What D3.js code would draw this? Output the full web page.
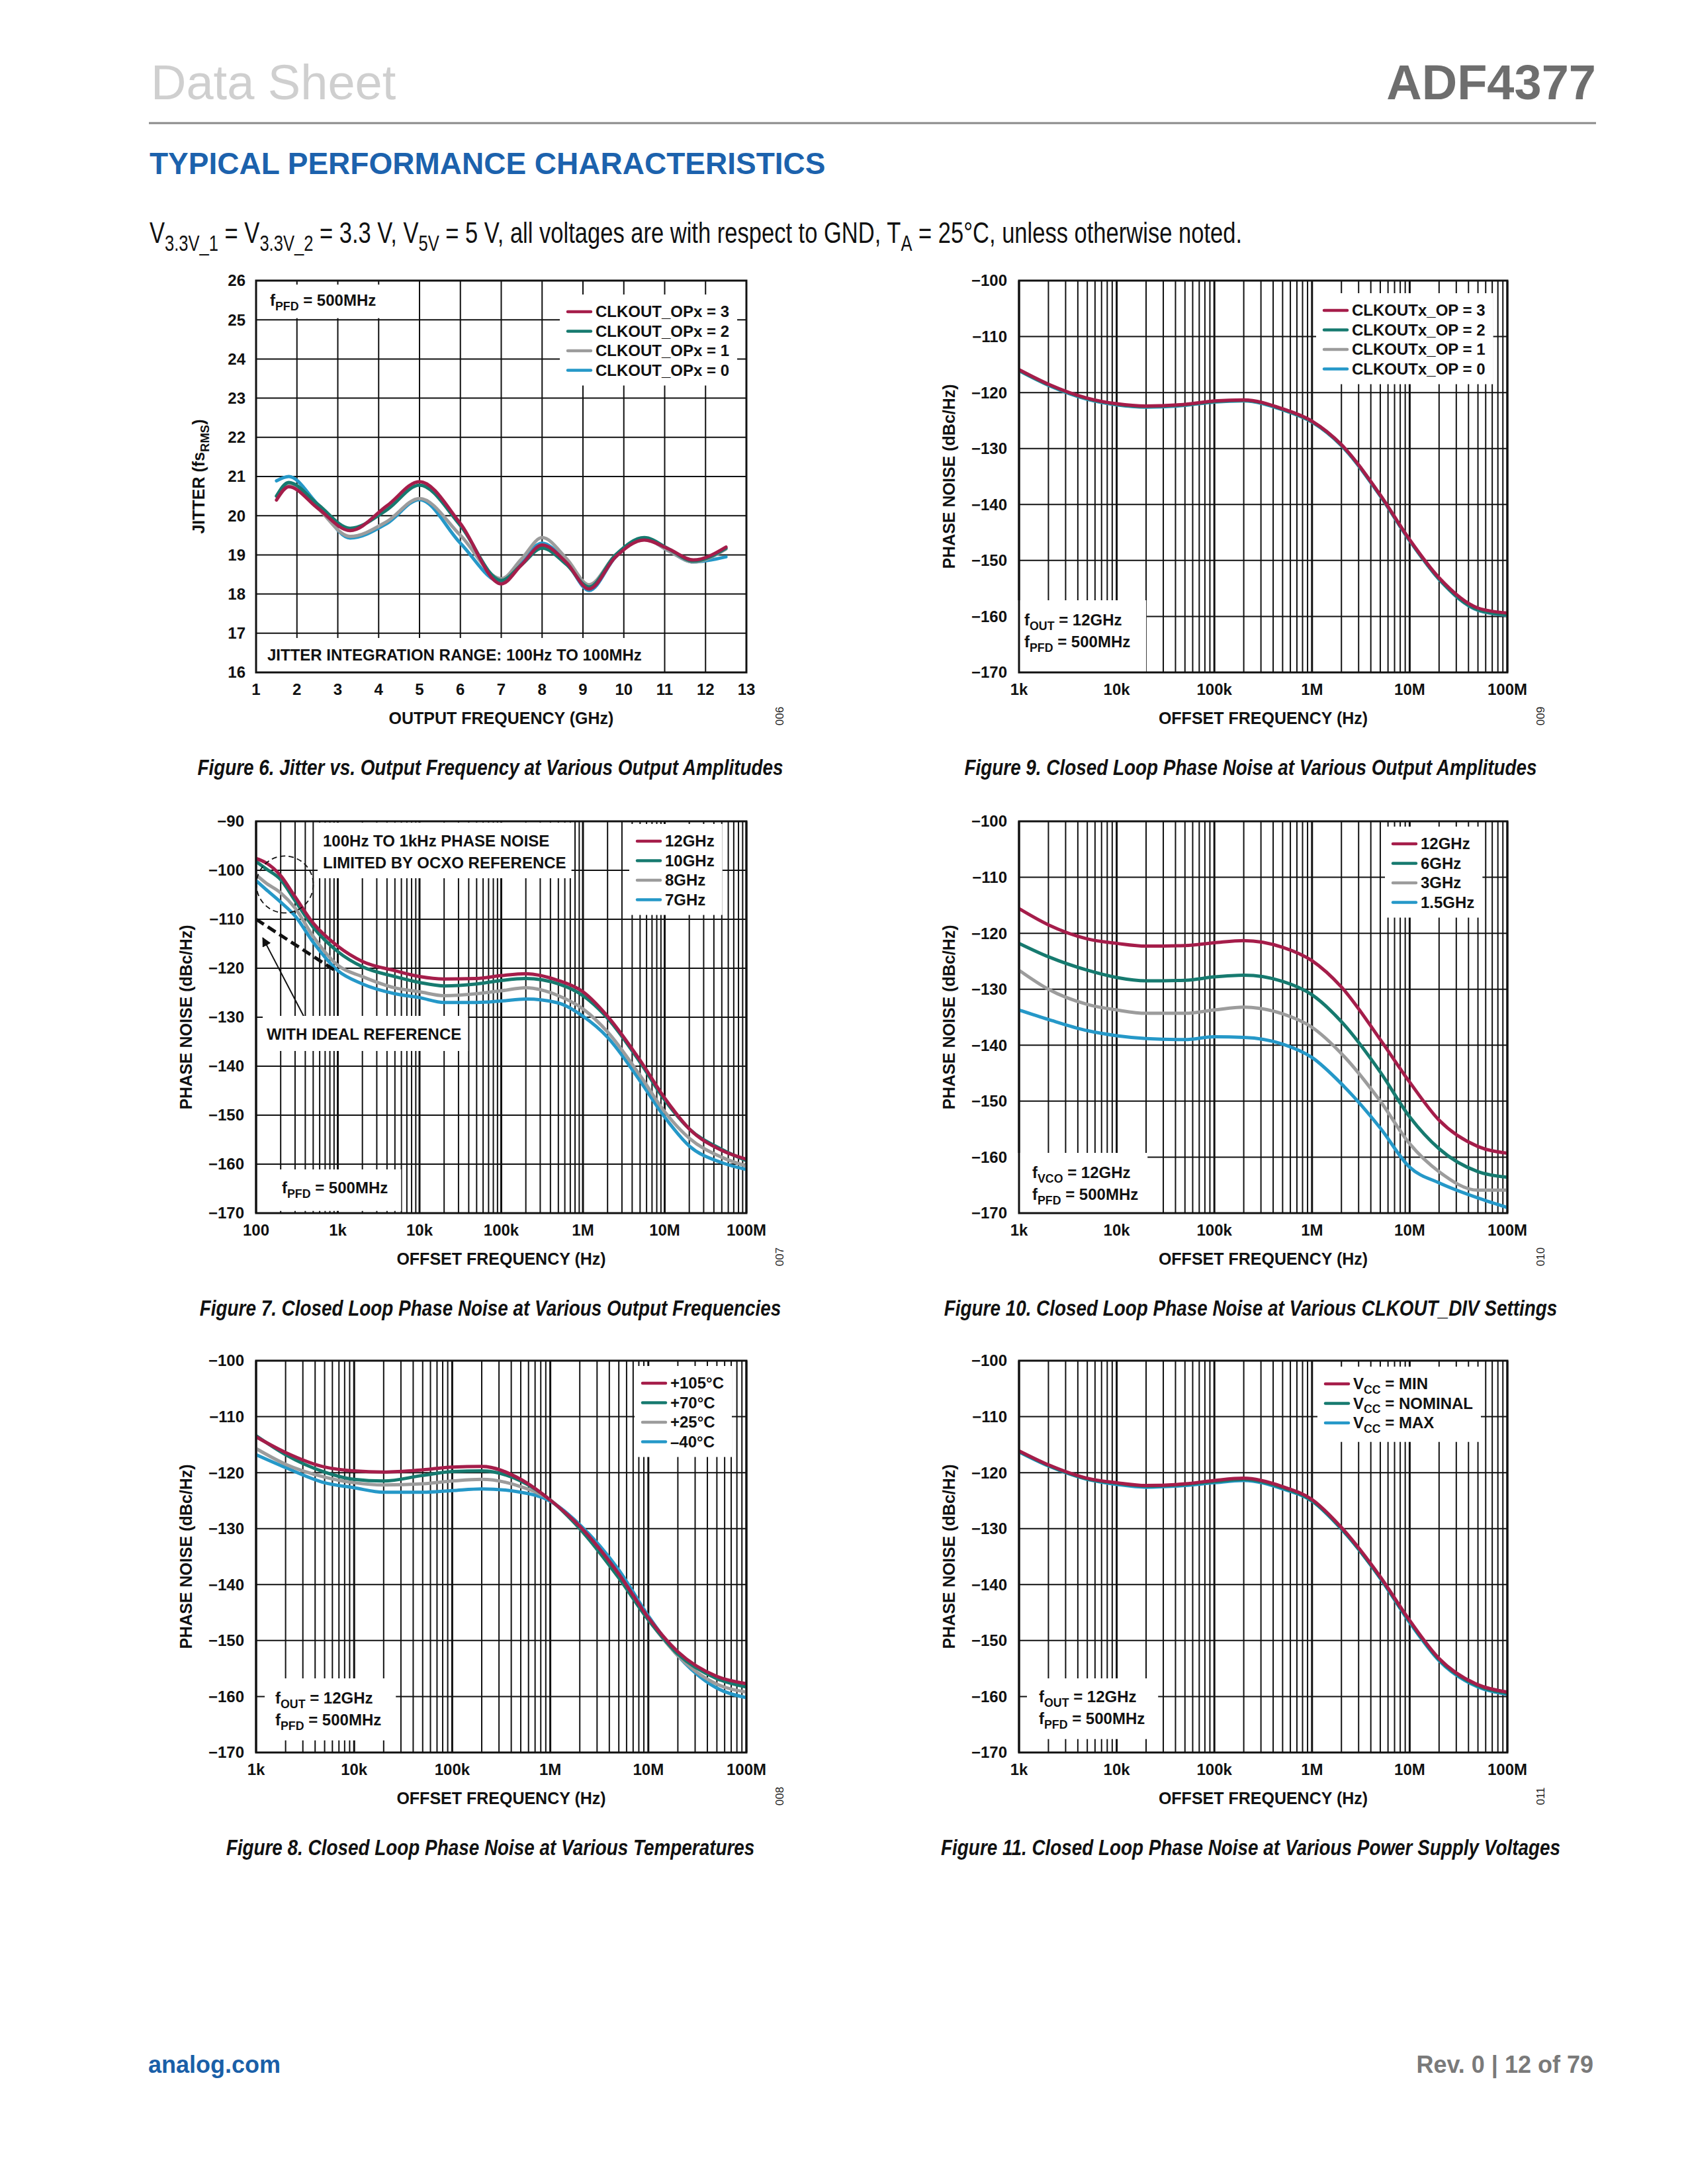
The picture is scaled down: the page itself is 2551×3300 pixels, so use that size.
<!DOCTYPE html>
<html>
<head>
<meta charset="utf-8">
<script src="https://cdn.jsdelivr.net/npm/d3@7"></script>
<style>
  body { margin: 0; background: #fff; }
  svg { display: block; }
  text { font-family: 'Liberation Sans', Arial, Helvetica, sans-serif; }
</style>
</head>
<body>
<div id="page"></div>
<script>
// Figura 6: jitter frente a frecuencia de salida
const jitterFreq = [1.5, 1.8, 2.5, 3.3, 4.2, 5.0, 6.0, 7.0, 7.5, 8.0, 8.6, 9.15, 9.8, 10.5, 11.1, 11.7, 12.5]
const jitterOp3 = [20.40, 20.74, 20.20, 19.62, 20.25, 20.87, 19.80, 18.26, 18.75, 19.25, 18.80, 18.13, 18.95, 19.38, 19.15, 18.87, 19.20]
const jitterOp2 = [20.50, 20.85, 20.30, 19.68, 20.15, 20.78, 19.75, 18.35, 18.75, 19.17, 18.75, 18.18, 19.00, 19.44, 19.15, 18.84, 19.17]
const jitterOp1 = [20.50, 20.80, 20.20, 19.47, 19.85, 20.44, 19.50, 18.39, 18.90, 19.44, 18.90, 18.24, 19.00, 19.41, 19.10, 18.82, 19.15]
const jitterOp0 = [20.89, 21.00, 20.30, 19.43, 19.80, 20.41, 19.30, 18.30, 18.85, 19.30, 18.80, 18.09, 18.95, 19.42, 19.10, 18.82, 18.95]
const jitterLabels = ['CLKOUT_OPx = 3', 'CLKOUT_OPx = 2', 'CLKOUT_OPx = 1', 'CLKOUT_OPx = 0']
const jitterTicksX = [1, 2, 3, 4, 5, 6, 7, 8, 9, 10, 11, 12, 13]
const jitterTicksY = [16, 17, 18, 19, 20, 21, 22, 23, 24, 25, 26]

// frecuencias de offset comunes (Hz)
const pnFreq = [1e3, 2e3, 5e3, 1e4, 2e4, 5e4, 1e5, 2e5, 5e5, 1e6, 2e6, 5e6, 1e7, 2e7, 5e7, 1e8]
const fig7Freq = [100, 130, 200, 300, 500, 1e3, 2e3, 5e3, 1e4, 2e4, 5e4, 1e5, 2e5, 5e5, 1e6, 2e6, 5e6, 1e7, 2e7, 5e7, 1e8]

// Figura 9: amplitudes de salida
const fig9Op3 = [-115.9, -118.5, -121.0, -122.0, -122.4, -122.1, -121.5, -121.3, -122.9, -125.1, -129.3, -138.3, -146.3, -153.1, -158.5, -159.4]
const fig9Op2 = [-116.0, -118.6, -121.1, -122.1, -122.5, -122.2, -121.6, -121.4, -123.0, -125.2, -129.4, -138.4, -146.4, -153.3, -158.8, -159.7]
const fig9Op1 = [-116.0, -118.6, -121.1, -122.1, -122.5, -122.2, -121.6, -121.4, -123.0, -125.2, -129.4, -138.4, -146.4, -153.3, -158.8, -159.7]
const fig9Op0 = [-116.1, -118.7, -121.2, -122.2, -122.6, -122.3, -121.7, -121.5, -123.1, -125.3, -129.5, -138.5, -146.5, -153.4, -158.9, -159.8]
const fig9Labels = ['CLKOUTx_OP = 3', 'CLKOUTx_OP = 2', 'CLKOUTx_OP = 1', 'CLKOUTx_OP = 0']

// Figura 7: frecuencias de salida
const fig7F12 = [-97.6, -98.4, -101.1, -105.4, -110.8, -115.5, -118.6, -120.5, -121.7, -122.2, -122.1, -121.5, -121.1, -122.5, -124.8, -129.8, -138.8, -146.5, -152.8, -157.2, -159.0]
const fig7F10 = [-98.2, -99.6, -101.9, -106.2, -111.6, -116.6, -119.7, -121.7, -122.9, -123.6, -123.2, -122.5, -122.1, -123.2, -125.6, -130.2, -139.2, -146.9, -152.8, -157.0, -159.3]
const fig7F8 = [-100.9, -102.5, -104.6, -107.7, -113.5, -119.4, -121.7, -124.0, -124.8, -125.6, -125.2, -124.6, -124.0, -125.6, -128.3, -133.0, -141.9, -149.3, -154.7, -158.6, -160.4]
const fig7F7 = [-102.1, -103.8, -106.5, -109.3, -114.7, -120.5, -123.2, -125.2, -126.0, -127.0, -127.0, -126.7, -126.3, -127.1, -129.8, -134.1, -143.0, -150.4, -156.3, -159.7, -161.1]
const fig7Labels = ['12GHz', '10GHz', '8GHz', '7GHz']

// Figura 10: ajustes de CLKOUT_DIV
const fig10F12 = [-115.6, -118.5, -121.0, -121.8, -122.3, -122.2, -121.7, -121.3, -122.5, -124.9, -129.6, -139.0, -146.6, -153.4, -158.1, -159.3]
const fig10F6 = [-121.8, -124.2, -126.6, -127.9, -128.5, -128.4, -127.8, -127.5, -128.6, -131.0, -135.8, -144.8, -152.8, -158.5, -162.6, -163.6]
const fig10F3 = [-126.6, -130.0, -132.7, -133.7, -134.3, -134.3, -133.7, -133.2, -134.4, -136.8, -141.5, -150.0, -157.6, -162.6, -165.9, -165.9]
const fig10F15 = [-133.7, -135.4, -137.4, -138.3, -138.8, -139.0, -138.5, -138.6, -139.8, -142.2, -146.9, -154.8, -161.8, -164.6, -167.3, -169.0]
const fig10Labels = ['12GHz', '6GHz', '3GHz', '1.5GHz']

// Figura 8: temperaturas
const fig8T105 = [-113.6, -116.4, -119.0, -119.7, -119.9, -119.5, -119.0, -118.9, -121.2, -124.9, -129.6, -138.1, -145.9, -152.0, -156.4, -157.7]
const fig8T70 = [-113.4, -116.8, -119.9, -121.2, -121.5, -120.5, -119.8, -119.7, -121.5, -124.9, -130.0, -138.8, -146.3, -152.4, -156.8, -158.3]
const fig8T25 = [-115.7, -118.5, -120.8, -121.8, -122.2, -122.0, -121.5, -121.2, -122.5, -124.9, -130.0, -138.8, -146.3, -152.7, -157.8, -159.2]
const fig8Tm40 = [-116.8, -119.1, -121.8, -122.7, -123.5, -123.5, -123.2, -122.9, -123.5, -125.1, -129.3, -137.4, -145.6, -152.7, -158.5, -160.2]
const fig8Labels = ['+105°C', '+70°C', '+25°C', '\u201340°C']

// Figura 11: tensiones de alimentación
const fig11Min = [-116.1, -118.6, -121.0, -121.8, -122.3, -122.0, -121.4, -121.0, -122.5, -124.8, -129.8, -138.6, -146.4, -153.2, -157.9, -159.2]
const fig11Nom = [-116.2, -118.7, -121.1, -121.9, -122.4, -122.1, -121.6, -121.2, -122.7, -125.0, -130.0, -138.8, -146.6, -153.4, -158.1, -159.4]
const fig11Max = [-116.3, -118.8, -121.2, -122.1, -122.6, -122.3, -121.8, -121.4, -122.9, -125.1, -130.1, -138.9, -146.8, -153.6, -158.3, -159.6]
const fig11Labels = ['V_{CC} = MIN', 'V_{CC} = NOMINAL', 'V_{CC} = MAX']

const pnTicksY70 = [-170, -160, -150, -140, -130, -120, -110, -100]
const pnTicksY80 = [-170, -160, -150, -140, -130, -120, -110, -100, -90]
const decadeLabels = { 100: '100', 1e3: '1k', 1e4: '10k', 1e5: '100k', 1e6: '1M', 1e7: '10M', 1e8: '100M' }

const colors = ['#a51d4a', '#167a6f', '#9c9c9c', '#2598c8']
const colorsVcc = ['#a51d4a', '#167a6f', '#2598c8']

// ---------- configuración general ----------
const page = { width: 2551, height: 3300 }
const colX = [387, 1540]
const colW = [741, 738]
const rowY = [424, 1241, 2056]
const plotH = 592
const captionX = [741, 1890]
const minus = (v) => (v < 0 ? '\u2212' + Math.abs(v) : String(v))

const svg = d3.select('#page')
    .append('svg')
    .attr('width', page.width)
    .attr('height', page.height)

// texto con subíndices marcados como _{...}
function rich(textSel, str, size) {
    const re = /_\{([^}]*)\}/g
    const shift = size * 0.28
    let last = 0, m, shifted = false
    const normal = (t) => {
        textSel.append('tspan').attr('dy', shifted ? -shift : 0).text(t)
        shifted = false
    }
    while ((m = re.exec(str))) {
        if (m.index > last) normal(str.slice(last, m.index))
        textSel.append('tspan').attr('font-size', size * 0.74).attr('dy', shifted ? 0 : shift).text(m[1])
        shifted = true
        last = re.lastIndex
    }
    if (last < str.length) normal(str.slice(last))
    return textSel
}

// bloque de texto con fondo blanco que tapa la rejilla
function boxed(g, x, y, lines, lineH, pad) {
    const grp = g.append('g')
    lines.forEach((l, i) => {
        const t = grp.append('text')
            .attr('x', x).attr('y', y + i * lineH)
            .attr('font-size', 24).attr('font-weight', 'bold').attr('fill', '#111')
        rich(t, l, 24)
    })
    const bb = grp.node().getBBox()
    grp.insert('rect', ':first-child')
        .attr('x', bb.x - pad[3]).attr('y', bb.y - pad[0])
        .attr('width', bb.width + pad[1] + pad[3]).attr('height', bb.height + pad[0] + pad[2])
        .attr('fill', '#fff')
    return grp
}

function legend(g, x, y, labels, cols) {
    const grp = g.append('g')
    labels.forEach((l, i) => {
        const yy = y + i * 29.5
        grp.append('line')
            .attr('x1', x).attr('x2', x + 35).attr('y1', yy - 8).attr('y2', yy - 8)
            .attr('stroke', cols[i]).attr('stroke-width', 4.5).attr('stroke-linecap', 'round')
        const t = grp.append('text').attr('x', x + 42).attr('y', yy)
            .attr('font-size', 24).attr('font-weight', 'bold').attr('fill', '#111')
        rich(t, l, 24)
    })
    const bb = grp.node().getBBox()
    grp.insert('rect', ':first-child')
        .attr('x', bb.x - 12).attr('y', bb.y - 12)
        .attr('width', bb.width + 24).attr('height', bb.height + 22)
        .attr('fill', '#fff')
}

// marco común: etiquetas de ejes, título, pie de figura
function frame(g, w, h, yTitle, yTitleOff, xTitle, figId, caption, capX, x0) {
    g.append('rect').attr('width', w).attr('height', h)
        .attr('fill', 'none').attr('stroke', '#111').attr('stroke-width', 3)
    g.append('text')
        .attr('transform', `translate(${-yTitleOff},${h / 2}) rotate(-90)`)
        .attr('text-anchor', 'middle').attr('dy', '0.35em')
        .attr('font-size', 25).attr('font-weight', 'bold').attr('fill', '#111')
        .call((t) => rich(t, yTitle, 25))
    g.append('text')
        .attr('x', w / 2).attr('y', h + 78)
        .attr('text-anchor', 'middle')
        .attr('font-size', 25).attr('font-weight', 'bold').attr('fill', '#111')
        .text(xTitle)
    g.append('text')
        .attr('transform', `translate(${w + 50},${h + 66}) rotate(-90)`)
        .attr('text-anchor', 'middle').attr('dy', '0.35em')
        .attr('font-size', 17).attr('fill', '#222')
        .text(figId)
    g.append('g')
        .attr('transform', `translate(${capX - x0},${h + 155}) scale(0.82,1)`)
        .append('text')
        .attr('text-anchor', 'middle')
        .attr('font-size', 34).attr('font-style', 'italic').attr('font-weight', 'bold').attr('fill', '#111')
        .text(caption)
}

// ---------- Figura 6: jitter ----------
function drawJitter() {
    const x0 = colX[0], y0 = rowY[0], w = colW[0], h = plotH
    const g = svg.append('g').attr('transform', `translate(${x0},${y0})`)
    const x = d3.scaleLinear().domain([1, 13]).range([0, w])
    const y = d3.scaleLinear().domain([16, 26]).range([h, 0])

    g.append('g').selectAll('line').data(jitterTicksX).join('line')
        .attr('x1', x).attr('x2', x).attr('y1', 0).attr('y2', h)
        .attr('stroke', '#111').attr('stroke-width', 2)
    g.append('g').selectAll('line').data(jitterTicksY).join('line')
        .attr('x1', 0).attr('x2', w).attr('y1', y).attr('y2', y)
        .attr('stroke', '#111').attr('stroke-width', 2)

    const series = [jitterOp3, jitterOp2, jitterOp1, jitterOp0]
    const line = d3.line().x((d) => x(d[0])).y((d) => y(d[1])).curve(d3.curveMonotoneX)
    series.slice().reverse().forEach((s, ri) => {
        const i = series.length - 1 - ri
        g.append('path')
            .attr('d', line(jitterFreq.map((f, k) => [f, s[k]])))
            .attr('fill', 'none').attr('stroke', colors[i]).attr('stroke-width', 5)
            .attr('stroke-linejoin', 'round').attr('stroke-linecap', 'round')
    })

    legend(g, 471, 55, jitterLabels, colors)
    boxed(g, 21, 38, ['f_{PFD} = 500MHz'], 32, [10, 14, 8, 12])
    boxed(g, 17, 574, ['JITTER INTEGRATION RANGE: 100Hz TO 100MHz'], 32, [12, 14, 14, 8])

    g.append('g').selectAll('text').data(jitterTicksX).join('text')
        .attr('x', x).attr('y', h + 34).attr('text-anchor', 'middle')
        .attr('font-size', 24).attr('font-weight', 'bold').attr('fill', '#111')
        .text((d) => d)
    g.append('g').selectAll('text').data(jitterTicksY).join('text')
        .attr('x', -16).attr('y', y).attr('dy', '0.35em').attr('text-anchor', 'end')
        .attr('font-size', 24).attr('font-weight', 'bold').attr('fill', '#111')
        .text((d) => d)

    frame(g, w, h, 'JITTER (fs_{RMS})', 78, 'OUTPUT FREQUENCY (GHz)', '006',
        'Figure 6. Jitter vs. Output Frequency at Various Output Amplitudes', captionX[0], x0)
}

// ---------- figuras de ruido de fase ----------
function drawPN(o) {
    const x0 = colX[o.col], y0 = rowY[o.row], w = colW[o.col], h = plotH
    const cols = o.colors || colors
    const g = svg.append('g').attr('transform', `translate(${x0},${y0})`)
    const x = d3.scaleLog().domain(o.xDomain).range([0, w])
    const y = d3.scaleLinear().domain(o.yDomain).range([h, 0])

    const minor = []
    const decades = []
    for (let dec = o.xDomain[0]; dec < o.xDomain[1]; dec *= 10) {
        decades.push(dec)
        for (let k = 2; k <= 9; k++) minor.push(dec * k)
    }
    decades.push(o.xDomain[1])
    g.append('g').selectAll('line').data(minor).join('line')
        .attr('x1', x).attr('x2', x).attr('y1', 0).attr('y2', h)
        .attr('stroke', '#111').attr('stroke-width', 2)
    g.append('g').selectAll('line').data(decades).join('line')
        .attr('x1', x).attr('x2', x).attr('y1', 0).attr('y2', h)
        .attr('stroke', '#111').attr('stroke-width', 3)
    g.append('g').selectAll('line').data(o.yTicks).join('line')
        .attr('x1', 0).attr('x2', w).attr('y1', y).attr('y2', y)
        .attr('stroke', '#111').attr('stroke-width', 2)

    const clipId = 'clip' + o.figId
    g.append('clipPath').attr('id', clipId).append('rect').attr('width', w).attr('height', h)
    const line = d3.line().x((d) => x(d[0])).y((d) => y(d[1])).curve(d3.curveMonotoneX)
    const curves = g.append('g').attr('clip-path', `url(#${clipId})`)
    o.series.slice().reverse().forEach((s, ri) => {
        const i = o.series.length - 1 - ri
        curves.append('path')
            .attr('d', line(o.freq.map((f, k) => [f, s[k]])))
            .attr('fill', 'none').attr('stroke', cols[i]).attr('stroke-width', 5)
            .attr('stroke-linejoin', 'round').attr('stroke-linecap', 'round')
    })

    if (o.extra) o.extra(g, x, y)

    legend(g, o.legend[0], o.legend[1], o.labels, cols)
    o.notes.forEach((n) => boxed(g, n.x, n.y, n.lines, 33, n.pad || [10, 22, 12, 10]))

    g.append('g').selectAll('text').data(decades).join('text')
        .attr('x', x).attr('y', h + 34).attr('text-anchor', 'middle')
        .attr('font-size', 24).attr('font-weight', 'bold').attr('fill', '#111')
        .text((d) => decadeLabels[d])
    g.append('g').selectAll('text').data(o.yTicks).join('text')
        .attr('x', -18).attr('y', y).attr('dy', '0.35em').attr('text-anchor', 'end')
        .attr('font-size', 24).attr('font-weight', 'bold').attr('fill', '#111')
        .text(minus)

    frame(g, w, h, 'PHASE NOISE (dBc/Hz)', 97, 'OFFSET FREQUENCY (Hz)', o.figId, o.caption, captionX[o.col], x0)
}

// ---------- cabecera ----------
svg.append('text').attr('x', 228).attr('y', 150)
    .attr('font-size', 74).attr('fill', '#cfcfcf').text('Data Sheet')
svg.append('text').attr('x', 2412).attr('y', 150).attr('text-anchor', 'end')
    .attr('font-size', 74).attr('font-weight', 'bold').attr('fill', '#6e6e6e').text('ADF4377')
svg.append('line').attr('x1', 225).attr('x2', 2412).attr('y1', 186).attr('y2', 186)
    .attr('stroke', '#8a8a8a').attr('stroke-width', 3)
svg.append('text').attr('x', 226).attr('y', 263)
    .attr('font-size', 46).attr('font-weight', 'bold').attr('fill', '#1c62ad')
    .text('TYPICAL PERFORMANCE CHARACTERISTICS')
svg.append('g').attr('transform', 'translate(226,367) scale(0.785,1)')
    .append('text').attr('font-size', 44).attr('fill', '#111')
    .call((t) => rich(t, 'V_{3.3V_1} = V_{3.3V_2} = 3.3 V, V_{5V} = 5 V, all voltages are with respect to GND, T_{A} = 25°C, unless otherwise noted.', 44))

// ---------- pie de página ----------
svg.append('text').attr('x', 224).attr('y', 3132)
    .attr('font-size', 36).attr('font-weight', 'bold').attr('fill', '#1a5fa8').text('analog.com')
svg.append('text').attr('x', 2408).attr('y', 3132).attr('text-anchor', 'end')
    .attr('font-size', 36).attr('font-weight', 'bold').attr('fill', '#7a7a7a').text('Rev. 0 | 12 of 79')

// ---------- dibujo ----------
drawJitter()

drawPN({
    col: 1, row: 0, figId: '009', xDomain: [1e3, 1e8], yDomain: [-170, -100], yTicks: pnTicksY70,
    freq: pnFreq, series: [fig9Op3, fig9Op2, fig9Op1, fig9Op0], labels: fig9Labels,
    legend: [461, 53],
    notes: [{ x: 8, y: 521, lines: ['f_{OUT} = 12GHz', 'f_{PFD} = 500MHz'], pad: [16, 24, 30, 12] }],
    caption: 'Figure 9. Closed Loop Phase Noise at Various Output Amplitudes',
})

drawPN({
    col: 0, row: 1, figId: '007', xDomain: [100, 1e8], yDomain: [-170, -90], yTicks: pnTicksY80,
    freq: fig7Freq, series: [fig7F12, fig7F10, fig7F8, fig7F7], labels: fig7Labels,
    legend: [576, 38],
    notes: [
        { x: 101, y: 38, lines: ['100Hz TO 1kHz PHASE NOISE', 'LIMITED BY OCXO REFERENCE'], pad: [14, 8, 10, 8] },
        { x: 16, y: 330, lines: ['WITH IDEAL REFERENCE'], pad: [14, 10, 12, 6] },
        { x: 39, y: 562, lines: ['f_{PFD} = 500MHz'], pad: [14, 20, 16, 10] },
    ],
    extra: (g, x, y) => {
        g.append('line')
            .attr('x1', x(100)).attr('y1', y(-110)).attr('x2', x(930)).attr('y2', y(-120.5))
            .attr('stroke', '#111').attr('stroke-width', 5).attr('stroke-dasharray', '14,7')
        g.append('circle')
            .attr('cx', x(225)).attr('cy', y(-102.9)).attr('r', 43)
            .attr('fill', 'none').attr('stroke', '#111').attr('stroke-width', 1.8).attr('stroke-dasharray', '8,5')
        g.append('defs').append('marker').attr('id', 'arrowHead')
            .attr('viewBox', '0 0 10 10').attr('refX', 9).attr('refY', 5)
            .attr('markerWidth', 7).attr('markerHeight', 7).attr('orient', 'auto')
            .append('path').attr('d', 'M0,0L10,5L0,10z').attr('fill', '#111')
        g.append('line')
            .attr('x1', x(394)).attr('y1', y(-130.2)).attr('x2', x(121)).attr('y2', y(-113.8))
            .attr('stroke', '#111').attr('stroke-width', 2).attr('marker-end', 'url(#arrowHead)')
    },
    caption: 'Figure 7. Closed Loop Phase Noise at Various Output Frequencies',
})

drawPN({
    col: 1, row: 1, figId: '010', xDomain: [1e3, 1e8], yDomain: [-170, -100], yTicks: pnTicksY70,
    freq: pnFreq, series: [fig10F12, fig10F6, fig10F3, fig10F15], labels: fig10Labels,
    legend: [565, 42],
    notes: [{ x: 20, y: 539, lines: ['f_{VCO} = 12GHz', 'f_{PFD} = 500MHz'], pad: [16, 14, 30, 22] }],
    caption: 'Figure 10. Closed Loop Phase Noise at Various CLKOUT_DIV Settings',
})

drawPN({
    col: 0, row: 2, figId: '008', xDomain: [1e3, 1e8], yDomain: [-170, -100], yTicks: pnTicksY70,
    freq: pnFreq, series: [fig8T105, fig8T70, fig8T25, fig8Tm40], labels: fig8Labels,
    legend: [584, 42],
    notes: [{ x: 29, y: 518, lines: ['f_{OUT} = 12GHz', 'f_{PFD} = 500MHz'], pad: [16, 22, 12, 16] }],
    caption: 'Figure 8. Closed Loop Phase Noise at Various Temperatures',
})

drawPN({
    col: 1, row: 2, figId: '011', xDomain: [1e3, 1e8], yDomain: [-170, -100], yTicks: pnTicksY70,
    freq: pnFreq, series: [fig11Min, fig11Nom, fig11Max], labels: fig11Labels, colors: colorsVcc,
    legend: [463, 43],
    notes: [{ x: 30, y: 516, lines: ['f_{OUT} = 12GHz', 'f_{PFD} = 500MHz'], pad: [14, 20, 12, 18] }],
    caption: 'Figure 11. Closed Loop Phase Noise at Various Power Supply Voltages',
})
</script>
</body>
</html>
